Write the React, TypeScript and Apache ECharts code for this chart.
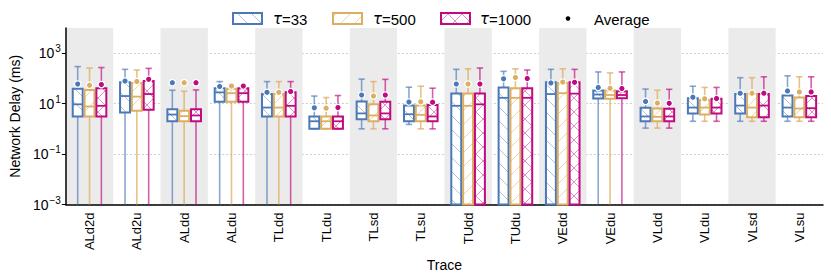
import React, { useEffect, useRef } from "react";
import * as echarts from "echarts";

const categories = [
  "ALd2d", "ALd2u", "ALdd", "ALdu", "TLdd", "TLdu", "TLsd", "TLsu",
  "TUdd", "TUdu", "VEdd", "VEdu", "VLdd", "VLdu", "VLsd", "VLsu",
];

// [low whisker, Q1, median, Q3, high whisker] in ms
const tau33Box = [
  [0.001, 3.1, 9.4, 39, 295],
  [0.001, 4.5, 20, 70, 229],
  [0.001, 2.0, 3.7, 6.0, 34],
  [0.001, 12, 28, 41, 75],
  [0.001, 3.1, 7.0, 24, 75],
  [1.0, 1.0, 2.0, 3.1, 20],
  [1.0, 2.4, 4.1, 12.3, 94],
  [1.5, 2.0, 3.8, 8.4, 45],
  [0.001, 0.001, 8.2, 25, 229],
  [0.001, 0.001, 17, 44, 191],
  [0.001, 0.001, 24, 70, 229],
  [0.001, 16, 23, 33, 181],
  [1.07, 2.0, 3.1, 6.8, 38],
  [2.0, 4.1, 7.0, 16.5, 49],
  [2.0, 4.1, 8.4, 24, 107],
  [2.0, 3.1, 7.0, 21, 127],
];
const tau33Mean = [60, 79, 68, 48, 28, 6.8, 22, 11.6, 60, 97, 66, 44, 12.3, 18, 26, 32];

const tau500Box = [
  [0.001, 3.1, 7.7, 35, 259],
  [0.001, 5.2, 19, 66, 216],
  [0.001, 2.0, 3.2, 5.2, 31],
  [0.001, 12, 26, 39, 59],
  [0.001, 3.1, 7.0, 24, 75],
  [1.0, 1.0, 2.0, 3.1, 17.5],
  [1.0, 2.0, 3.4, 9.4, 75],
  [1.0, 2.0, 3.6, 8.4, 49],
  [0.001, 0.001, 8.2, 25, 240],
  [0.001, 0.001, 17, 41, 240],
  [0.001, 0.001, 26, 66, 240],
  [0.001, 15.5, 22, 33, 166],
  [1.07, 2.0, 3.0, 6.4, 34],
  [2.0, 3.7, 7.0, 13.8, 44],
  [2.0, 2.9, 7.0, 24, 107],
  [2.0, 2.9, 6.4, 17.5, 116],
];
const tau500Mean = [54, 76, 68, 50, 28, 6.6, 20, 11.8, 60, 109, 72, 41, 10.6, 15.6, 26, 29];

const tau1000Box = [
  [0.001, 3.1, 8.2, 41, 270],
  [0.001, 5.7, 24, 79, 250],
  [0.001, 2.0, 3.4, 6.0, 35],
  [0.001, 12, 26, 41, 52],
  [0.001, 3.1, 8.2, 28, 75],
  [1.0, 1.0, 2.0, 3.1, 21],
  [1.0, 2.4, 4.1, 12, 92],
  [1.0, 2.0, 3.1, 8.9, 41],
  [0.001, 0.001, 9.4, 25, 259],
  [0.001, 0.001, 17, 41, 216],
  [0.001, 0.001, 25, 70, 229],
  [0.001, 16.5, 22, 31, 181],
  [1.07, 2.0, 3.1, 6.3, 37],
  [2.0, 4.1, 7.0, 15.6, 44],
  [2.0, 2.9, 8.4, 24, 116],
  [2.0, 2.9, 6.6, 20, 116],
];
const tau1000Mean = [57, 92, 68, 50, 30, 7.0, 22, 11.4, 60, 100, 70, 40, 10.3, 16, 26, 29];

const seriesNames = ["τ=33", "τ=500", "τ=1000"];
const seriesColors = ["#4a78b8", "#dcae62", "#bf0a80"];
const whiskerColors = ["rgba(74,120,184,0.65)", "rgba(220,174,98,0.75)", "rgba(191,10,128,0.65)"];
const hatchColors = ["rgba(74,120,184,0.45)", "rgba(220,174,98,0.55)", "rgba(191,10,128,0.45)"];
const hatchKinds = ["back", "fwd", "cross"];
const yTickExponents = [-3, -1, 1, 3];
const yMinExp = -3;
const yMaxExp = 4;

const FONT = "'Liberation Sans', Arial, Helvetica, sans-serif";

function hatchSegments(x0: number, y0: number, x1: number, y1: number, kind: string, s: number) {
  const segs: number[][] = [];
  if (kind === "back" || kind === "cross") {
    const cStart = Math.floor((y0 - x1) / s) * s;
    for (let c = cStart; c <= y1 - x0; c += s) {
      const xs = Math.max(x0, y0 - c);
      const xe = Math.min(x1, y1 - c);
      if (xe - xs > 0.3) segs.push([xs, xs + c, xe, xe + c]);
    }
  }
  if (kind === "fwd" || kind === "cross") {
    const cStart = Math.floor((y0 + x0) / s) * s;
    for (let c = cStart; c <= y1 + x1; c += s) {
      const xs = Math.max(x0, c - y1);
      const xe = Math.min(x1, c - y0);
      if (xe - xs > 0.3) segs.push([xs, c - xs, xe, c - xe]);
    }
  }
  return segs;
}

const log10 = (v: number) => Math.log10(v);

export default function App() {
  const ref = useRef<HTMLDivElement>(null);
  useEffect(() => {
    if (!ref.current) return;
    const chart = echarts.init(ref.current, undefined, { renderer: "svg" });
    const boxes = [tau33Box, tau500Box, tau1000Box];
    const means = [tau33Mean, tau500Mean, tau1000Mean];

    const boxSeries = boxes.map((box, si) => ({
      type: "custom",
      name: seriesNames[si],
      z: 3,
      data: box.map((b, i) => [i, ...b.map(log10), log10(means[si][i])]),
      encode: { x: 0, y: [1, 2, 3, 4, 5, 6] },
      renderItem: (params: any, api: any) => {
        const ci = api.value(0);
        const bw = api.size([1, 0])[0];
        const off = (si - 1) * bw * 0.25;
        const w = bw * 0.21;
        const cx = api.coord([ci, 0])[0] + off;
        const yOf = (k: number) => api.coord([ci, api.value(k)])[1];
        const lowV = api.value(1);
        const yLow = yOf(1), yQ1 = yOf(2), yMed = yOf(3), yQ3 = yOf(4), yHigh = yOf(5), yMean = yOf(6);
        const x0 = cx - w / 2, x1 = cx + w / 2;
        const capW = 3.2;
        const children: any[] = [];
        const wStyle = { stroke: whiskerColors[si], lineWidth: 1.6 };
        children.push({ type: "line", shape: { x1: cx, y1: yQ1, x2: cx, y2: yLow }, style: wStyle });
        if (lowV > yMinExp + 0.01) {
          children.push({ type: "line", shape: { x1: cx - capW, y1: yLow, x2: cx + capW, y2: yLow }, style: wStyle });
        }
        children.push({ type: "line", shape: { x1: cx, y1: yQ3, x2: cx, y2: yHigh }, style: wStyle });
        children.push({ type: "line", shape: { x1: cx - capW, y1: yHigh, x2: cx + capW, y2: yHigh }, style: wStyle });
        children.push({ type: "rect", shape: { x: x0, y: yQ3, width: w, height: yQ1 - yQ3 }, style: { fill: "#ffffff" } });
        hatchSegments(x0, yQ3, x1, yQ1, hatchKinds[si], 14).forEach((sg) => {
          children.push({ type: "line", shape: { x1: sg[0], y1: sg[1], x2: sg[2], y2: sg[3] }, style: { stroke: hatchColors[si], lineWidth: 1 } });
        });
        children.push({ type: "rect", shape: { x: x0, y: yQ3, width: w, height: yQ1 - yQ3 }, style: { fill: "none", stroke: seriesColors[si], lineWidth: 2 } });
        children.push({ type: "line", shape: { x1: x0, y1: yMed, x2: x1, y2: yMed }, style: { stroke: seriesColors[si], lineWidth: 1.8 } });
        children.push({ type: "circle", shape: { cx, cy: yMean, r: 3.2 }, style: { fill: seriesColors[si], stroke: "#ffffff", lineWidth: 1.2 } });
        return { type: "group", children };
      },
    }));

    const legendBoxX = [233, 333, 441];
    const legendTextX = [273, 373, 480];
    const legendY = 13, legendW = 29, legendH = 11;
    const legendEls: any[] = [];
    for (let si = 0; si < 3; si++) {
      const lx = legendBoxX[si];
      legendEls.push({ type: "rect", shape: { x: lx, y: legendY, width: legendW, height: legendH }, style: { fill: "#fff" } });
      hatchSegments(lx, legendY, lx + legendW, legendY + legendH, hatchKinds[si], 14).forEach((sg) => {
        legendEls.push({ type: "line", shape: { x1: sg[0], y1: sg[1], x2: sg[2], y2: sg[3] }, style: { stroke: hatchColors[si], lineWidth: 1 } });
      });
      legendEls.push({ type: "rect", shape: { x: lx, y: legendY, width: legendW, height: legendH }, style: { fill: "none", stroke: seriesColors[si], lineWidth: 2 } });
      const parts = seriesNames[si].split("=");
      legendEls.push({
        type: "text", x: legendTextX[si], y: legendY + legendH / 2 + 0.5,
        style: {
          text: `{i|${parts[0]}}{n|=${parts[1]}}`,
          verticalAlign: "middle",
          rich: {
            i: { fontStyle: "italic", fontSize: 15, fontFamily: "'DejaVu Sans', sans-serif", fill: "#000" },
            n: { fontSize: 15, fontFamily: FONT, fill: "#000" },
          },
        },
      });
    }
    legendEls.push({ type: "circle", shape: { cx: 568, cy: 18.5, r: 2.3 }, style: { fill: "#000" } });
    legendEls.push({ type: "text", x: 594, y: 19, style: { text: "Average", fontSize: 15, fontFamily: FONT, fill: "#000", verticalAlign: "middle" } });

    chart.setOption({
      animation: false,
      backgroundColor: "#ffffff",
      textStyle: { fontFamily: FONT },
      grid: { left: 57, right: 8, top: 28, bottom: 68, containLabel: false },
      xAxis: {
        type: "category",
        data: categories,
        name: "Trace",
        nameLocation: "middle",
        nameGap: 41,
        nameTextStyle: { fontSize: 14, color: "#000", fontFamily: FONT },
        axisLine: { show: true, onZero: false, lineStyle: { color: "#000", width: 1.5 } },
        axisTick: { show: false },
        axisLabel: { rotate: 90, interval: 0, fontSize: 13, color: "#000", margin: 8, fontFamily: FONT },
        splitArea: { show: true, interval: 0, areaStyle: { color: ["#ebebeb", "rgba(255,255,255,0)"] } },
        splitLine: { show: false },
      },
      yAxis: {
        type: "value",
        min: yMinExp,
        max: yMaxExp,
        name: "Network Delay (ms)",
        nameLocation: "middle",
        nameGap: 34,
        nameTextStyle: { fontSize: 14, color: "#000", fontFamily: FONT },
        axisLine: { show: true, onZero: false, lineStyle: { color: "#000", width: 1.5 } },
        axisTick: { show: true, length: 4, customValues: yTickExponents, lineStyle: { color: "#000", width: 1 } },
        axisLabel: {
          customValues: yTickExponents,
          margin: 5,
          formatter: (v: number) => `{b|10}{s|${v < 0 ? "−" : ""}${Math.abs(v)}}`,
          rich: {
            b: { fontSize: 14, color: "#000", fontFamily: FONT },
            s: { fontSize: 10, color: "#000", fontFamily: FONT, padding: [0, 0, 9, 1] },
          },
        },
        splitLine: { show: true, lineStyle: { color: "#cccccc", type: [2, 2], width: 1 } },
      },
      graphic: legendEls,
      series: boxSeries,
    } as any);
    return () => chart.dispose();
  }, []);
  return <div ref={ref} style={{ position: "absolute", left: 0, top: 0, width: 831, height: 277 }} />;
}
